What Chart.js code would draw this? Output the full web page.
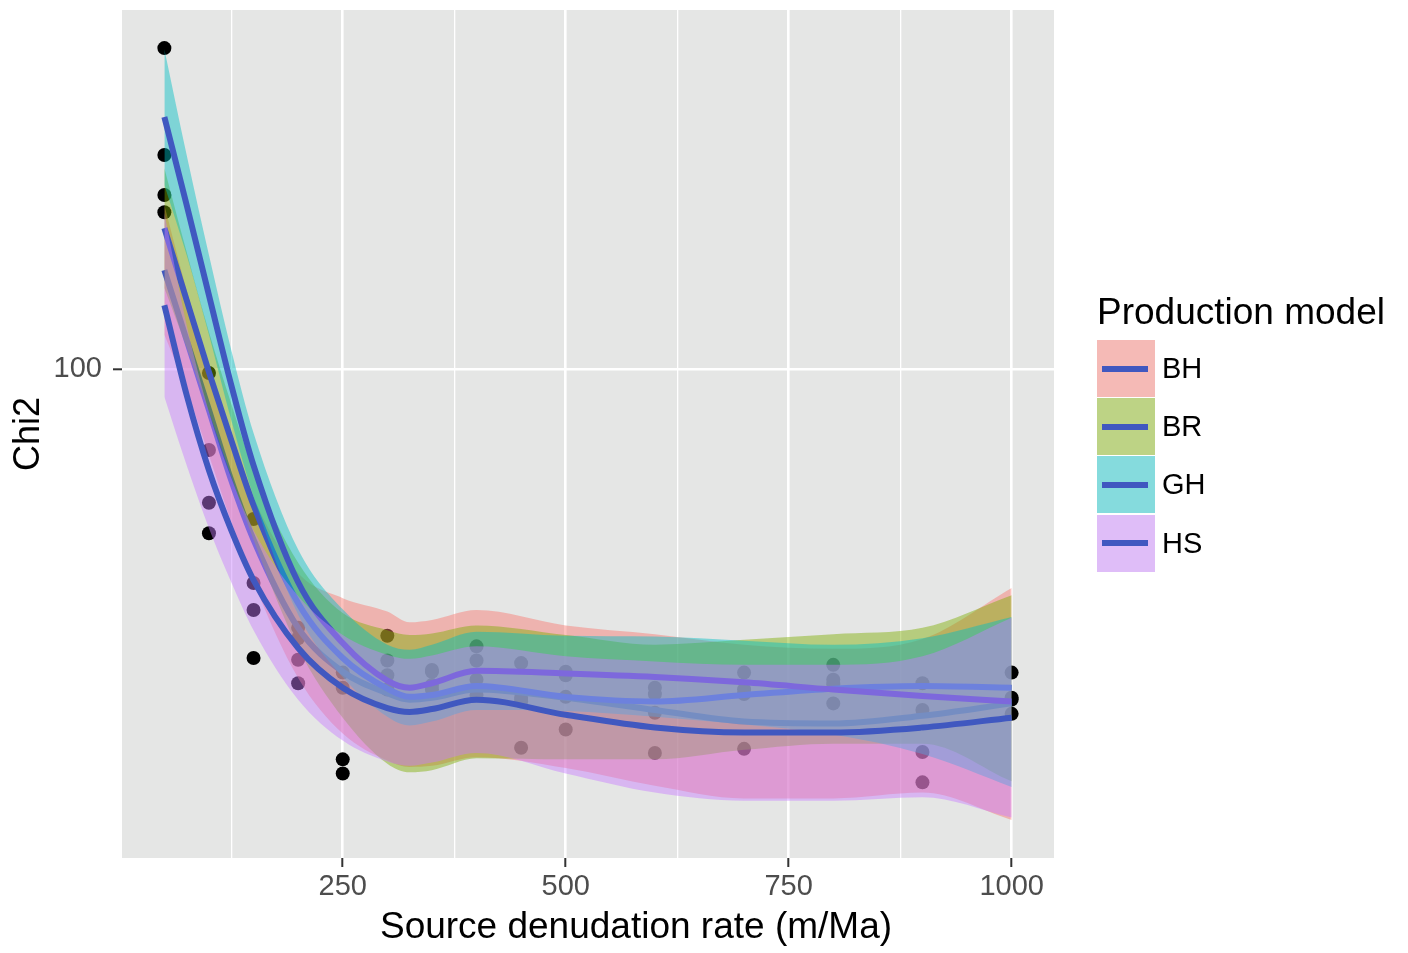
<!DOCTYPE html>
<html>
<head>
<meta charset="utf-8">
<script src="https://cdn.jsdelivr.net/npm/chart.js@4.4.1/dist/chart.umd.min.js"></script>
<style>
html,body{margin:0;padding:0;background:#ffffff;}
#wrap{position:relative;width:1408px;height:953px;font-family:"Liberation Sans",Arial,Helvetica,sans-serif;}
#chart{position:absolute;left:0;top:0;}
#xtitle{position:absolute;left:286px;width:700px;top:905px;text-align:center;font-size:37px;line-height:42px;color:#000;}
#legend{position:absolute;left:1097px;top:0;}
#legtitle{position:absolute;left:0;top:293px;font-size:37px;line-height:37px;white-space:nowrap;color:#000;}
.row{position:absolute;left:0;height:58px;width:300px;}
.key{position:absolute;left:0;top:0;width:58px;height:57px;background:#f2f2f2;}
.keyfill{position:absolute;left:0;top:0;width:58px;height:57px;}
.keyline{position:absolute;left:5px;width:46px;height:6px;top:25.5px;}
.lab{position:absolute;left:65px;top:14px;font-size:29px;line-height:29px;color:#000;}
</style>
</head>
<body>
<div id="wrap">
<canvas id="chart" width="1408" height="953"></canvas>
<div id="xtitle">Source denudation rate (m/Ma)</div>
<div id="legend"><div id="legtitle">Production model</div></div>
</div>
<script>
// ---- data ----
const models = ['BH', 'BR', 'GH', 'HS'];
const pointX = [50, 100, 150, 200, 250, 300, 350, 400, 450, 500, 600, 700, 800, 900, 1000];
const bhPts = [149.3, 73.5, 57.4, 51.2, 40.7, 49.4, 48.3, 48.9, 46.5, 47.0, 45.3, 47.3, 48.4, 41.4, 46.7];
const brPts = [163.7, 83.0, 61.1, 53.8, 48.0, 51.1, 49.8, 51.1, 46.9, 49.4, 47.3, 47.8, 48.9, 45.6, 46.9];
const ghPts = [209.4, 99.1, 70.8, 55.1, 49.7, 54.1, 50.0, 52.8, 50.8, 49.8, 48.0, 49.7, 50.6, 48.5, 49.7];
const hsPts = [143.5, 68.5, 51.4, 48.5, 39.4, 47.8, 47.8, 47.2, 41.8, 43.6, 41.3, 41.7, 46.3, 38.6, 45.2];

const curveX = [50, 75, 100, 125, 150, 200, 250, 300, 325, 350, 400, 500, 600, 700, 800, 900, 1000];
const bhFit   = [125.6, 106.9, 91.0, 77.4, 67.5, 55.1, 49.8, 47.4, 46.7, 46.9, 47.8, 46.9, 45.6, 44.4, 44.2, 45.0, 46.3];
const bhUpper = [145.9, 119.9, 101.0, 85.3, 74.3, 62.5, 59.0, 57.2, 55.8, 56.1, 57.4, 55.4, 54.3, 53.0, 52.5, 53.7, 60.4];
const bhLower = [108.2, 95.3, 82.0, 70.3, 61.2, 49.1, 43.2, 40.6, 40.0, 40.1, 40.9, 39.9, 38.3, 37.2, 37.2, 37.7, 35.4];
const brFit   = [138.3, 117.2, 99.3, 84.9, 73.1, 58.3, 51.4, 47.9, 47.0, 47.2, 48.2, 47.0, 46.5, 47.2, 47.9, 48.2, 48.0];
const brUpper = [158.8, 130.9, 108.9, 92.3, 79.2, 64.0, 57.0, 54.8, 54.2, 54.4, 55.4, 54.2, 53.0, 53.6, 54.3, 55.1, 59.4];
const brLower = [120.5, 105.0, 90.6, 78.1, 67.5, 52.6, 44.8, 40.3, 39.5, 39.7, 40.8, 40.7, 40.7, 41.6, 42.2, 42.2, 38.7];
const ghFit   = [178.7, 145.9, 118.5, 96.4, 80.1, 61.2, 53.2, 48.8, 48.0, 48.5, 49.9, 49.6, 49.2, 48.6, 47.8, 47.1, 46.5];
const ghUpper = [208.9, 163.7, 130.0, 104.5, 86.3, 66.0, 57.5, 53.0, 52.4, 53.0, 54.6, 54.1, 54.0, 53.5, 53.0, 53.8, 56.5];
const ghLower = [152.8, 130.0, 108.2, 88.9, 74.5, 56.8, 49.2, 44.9, 44.0, 44.4, 45.6, 45.5, 44.9, 44.1, 43.1, 41.2, 38.2];
const hsFit   = [115.8, 94.2, 79.2, 69.0, 61.5, 52.6, 48.0, 45.8, 45.4, 45.7, 46.7, 45.1, 43.8, 43.3, 43.3, 43.8, 44.8];
const hsUpper = [143.2, 110.6, 90.6, 77.8, 69.0, 59.3, 54.2, 51.8, 51.3, 51.7, 52.8, 51.6, 51.0, 50.6, 50.6, 51.6, 56.4];
const hsLower = [93.8, 80.1, 69.3, 61.2, 54.8, 46.7, 42.5, 40.5, 40.1, 40.4, 41.3, 39.4, 37.7, 37.0, 37.0, 37.3, 35.6];

const xTickValues = [125, 250, 375, 500, 625, 750, 875, 1000];
const xTickLabels = ['', '250', '', '500', '', '750', '', '1000'];
const yTickValues = [100];
const yTickLabels = ['100'];
const xRange = [2.5, 1047.5];
const yRange = [32.43, 228.6];

// ---- styles ----
const FONT = '"Liberation Sans", Arial, Helvetica, sans-serif';
const fillRGB = {BH: '248,118,109', BR: '124,174,0', GH: '0,191,196', HS: '199,124,255'};
const ribbonAlpha = 0.45;
const lineColor = '#4058c0';
const panelBg = '#e5e6e5';

const series = {
  BH: {fit: bhFit, up: bhUpper, lo: bhLower, pts: bhPts},
  BR: {fit: brFit, up: brUpper, lo: brLower, pts: brPts},
  GH: {fit: ghFit, up: ghUpper, lo: ghLower, pts: ghPts},
  HS: {fit: hsFit, up: hsUpper, lo: hsLower, pts: hsPts}
};
function xy(xs, ys) { return xs.map((x, i) => ({x: x, y: ys[i]})); }

const datasets = [];
let ord = 1000;
models.forEach(m => {
  datasets.push({
    label: m + ' points', data: xy(pointX, series[m].pts), showLine: false,
    pointRadius: 7, pointHoverRadius: 7, pointBackgroundColor: '#000000', pointBorderWidth: 0,
    borderColor: 'rgba(0,0,0,0)', order: ord--
  });
});
models.forEach(m => {
  const loIdx = datasets.length;
  datasets.push({
    label: m + ' lower', data: xy(curveX, series[m].lo), borderColor: 'rgba(0,0,0,0)', borderWidth: 0,
    pointRadius: 0, fill: false, cubicInterpolationMode: 'monotone', order: ord--
  });
  datasets.push({
    label: m + ' upper', data: xy(curveX, series[m].up), borderColor: 'rgba(0,0,0,0)', borderWidth: 0,
    pointRadius: 0, fill: {target: loIdx}, backgroundColor: 'rgba(' + fillRGB[m] + ',' + ribbonAlpha + ')',
    cubicInterpolationMode: 'monotone', order: ord--
  });
  datasets.push({
    label: m, data: xy(curveX, series[m].fit), borderColor: lineColor, borderWidth: 6,
    pointRadius: 0, fill: false, cubicInterpolationMode: 'monotone', order: ord--
  });
});

const panelPlugin = {
  id: 'panelBg',
  beforeDraw(chart) {
    const a = chart.chartArea, c = chart.ctx;
    c.save(); c.fillStyle = panelBg; c.fillRect(a.left, a.top, a.right - a.left, a.bottom - a.top); c.restore();
  }
};

new Chart(document.getElementById('chart'), {
  type: 'line',
  data: {datasets: datasets},
  plugins: [panelPlugin],
  options: {
    responsive: false, animation: false, devicePixelRatio: 1,
    layout: {padding: {left: 0, top: 10, right: 354, bottom: 0}},
    plugins: {legend: {display: false}, tooltip: {enabled: false}},
    elements: {line: {borderCapStyle: 'butt'}},
    scales: {
      x: {
        type: 'linear', min: xRange[0], max: xRange[1], bounds: 'data',
        afterBuildTicks: s => { s.ticks = xTickValues.map(v => ({value: v})); },
        afterFit: s => { s.height = 95; s.paddingLeft = 0; s.paddingRight = 0; },
        ticks: {callback: (v, i) => xTickLabels[i], color: '#4d4d4d', font: {size: 29, family: FONT}, padding: 3, maxRotation: 0, autoSkip: false},
        grid: {
          color: '#ffffff',
          lineWidth: c => (c.tick && c.tick.value % 250 === 0) ? 2.6 : 1.3,
          tickColor: c => (c.tick && c.tick.value % 250 === 0) ? '#333333' : 'rgba(0,0,0,0)',
          tickLength: 9, tickWidth: 2
        },
        border: {display: false}
      },
      y: {
        type: 'logarithmic', min: yRange[0], max: yRange[1], bounds: 'data',
        afterBuildTicks: s => { s.ticks = yTickValues.map(v => ({value: v})); },
        afterFit: s => { s.width = 122; s.paddingTop = 0; s.paddingBottom = 0; },
        ticks: {callback: (v, i) => yTickLabels[i], color: '#4d4d4d', font: {size: 29, family: FONT}, padding: 11},
        grid: {color: '#ffffff', lineWidth: 2.6, tickColor: '#333333', tickLength: 9, tickWidth: 2},
        border: {display: false},
        title: {display: true, text: 'Chi2', color: '#000000', font: {size: 36, family: FONT}, padding: {top: 7, bottom: 0}}
      }
    }
  }
});

// ---- legend (HTML) ----
const legend = document.getElementById('legend');
models.forEach((m, i) => {
  const row = document.createElement('div');
  row.className = 'row';
  row.style.top = (340 + i * 58.2) + 'px';
  row.innerHTML = '<div class="key"></div><div class="keyfill" style="background:rgba(' + fillRGB[m] + ',' + ribbonAlpha + ')"></div>' +
    '<div class="keyline" style="background:' + lineColor + '"></div><div class="lab">' + m + '</div>';
  legend.appendChild(row);
});
</script>
</body>
</html>
